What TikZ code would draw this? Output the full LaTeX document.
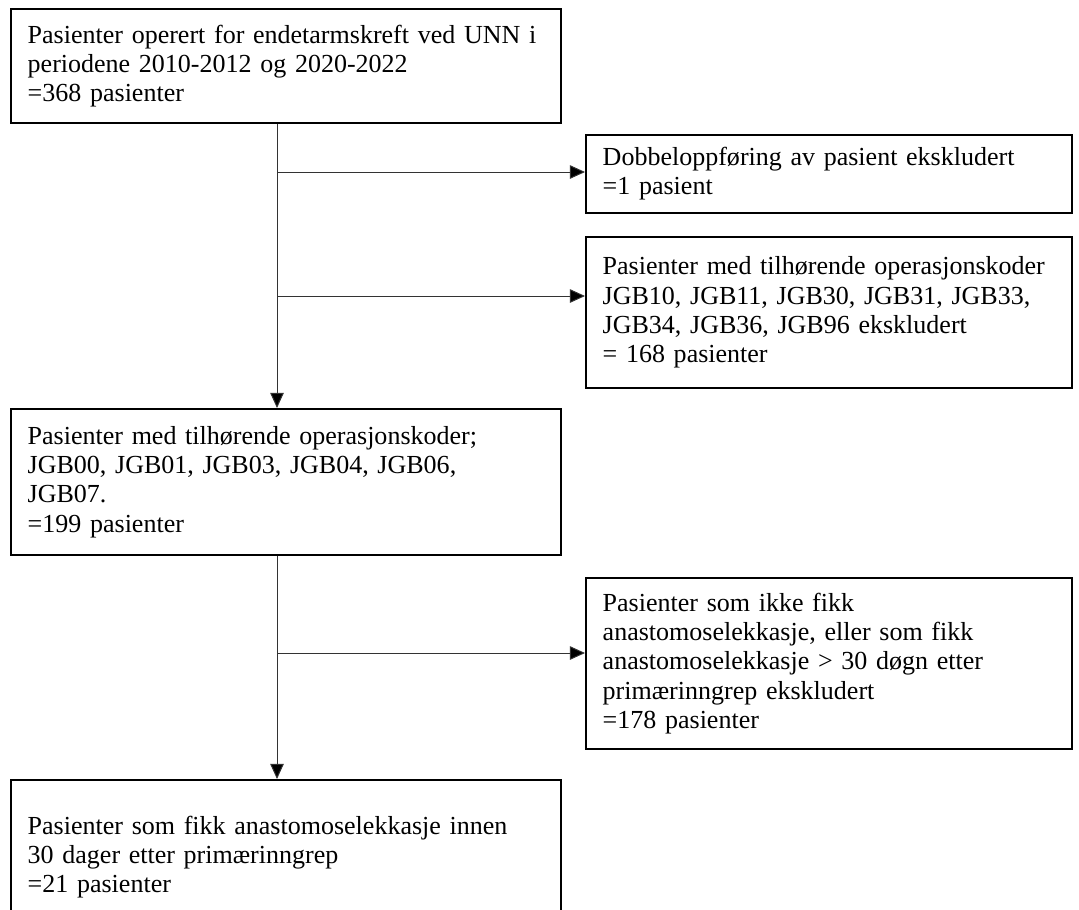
\documentclass[tikz,border=0pt]{standalone}
\usepackage{fontspec}
\setmainfont{Liberation Serif}
\usepackage{tikz}
\usetikzlibrary{arrows.meta}

\begin{document}
\begin{tikzpicture}[x=0.025cm,y=-0.025cm,
    box/.style={draw,line width=1.3pt,rectangle,anchor=north west,align=left,
      inner xsep=0.42cm,inner ysep=0.1cm,
      font=\fontsize{18.5}{20.8}\selectfont},
    lbox/.style={box,text width=12.9cm},
    rbox/.style={box,text width=11.3cm},
    arr/.style={line width=0.7pt,draw=black!80,-{Triangle[length=0.38cm,width=0.34cm,fill=black]}}]
        \useasboundingbox (0,0) rectangle (1079,909);
        \node[lbox,minimum height=2.85cm] (pop) at (10,8)
          {Pasienter operert for endetarmskreft ved UNN i\\periodene 2010-2012 og 2020-2022\\=368 pasienter};
        \node[rbox,minimum height=1.95cm] (dbl) at (585,134)
          {Dobbeloppføring av pasient ekskludert\\=1 pasient};
        \node[rbox,minimum height=3.775cm] (eks) at (585,236)
          {Pasienter med tilhørende operasjonskoder\\JGB10, JGB11, JGB30, JGB31, JGB33,\\JGB34, JGB36, JGB96 ekskludert\\= 168 pasienter};
        \node[lbox,minimum height=3.65cm] (inkl) at (10,408)
          {Pasienter med tilhørende operasjonskoder;\\JGB00, JGB01, JGB03, JGB04, JGB06,\\JGB07.\\=199 pasienter};
        \node[rbox,minimum height=4.275cm] (ikke) at (585,577)
          {Pasienter som ikke fikk\\anastomoselekkasje, eller som fikk\\anastomoselekkasje > 30 døgn etter\\primærinngrep ekskludert\\=178 pasienter};
        \node[lbox,minimum height=3.85cm] (lekk) at (10,779)
          {Pasienter som fikk anastomoselekkasje innen\\30 dager etter primærinngrep\\=21 pasienter};
        \coordinate (j1) at (277,172);
        \coordinate (j2) at (277,296);
        \coordinate (j3) at (277,653);
        \draw[arr] (pop.south -| j1) -- (j1 |- inkl.north);
        \draw[arr] (inkl.south -| j3) -- (j3 |- lekk.north);
        \foreach \j/\b in {j1/dbl, j2/eks, j3/ikke} {
          \draw[arr] (\j) -- (\j -| \b.west);
        }
\end{tikzpicture}
\end{document}
